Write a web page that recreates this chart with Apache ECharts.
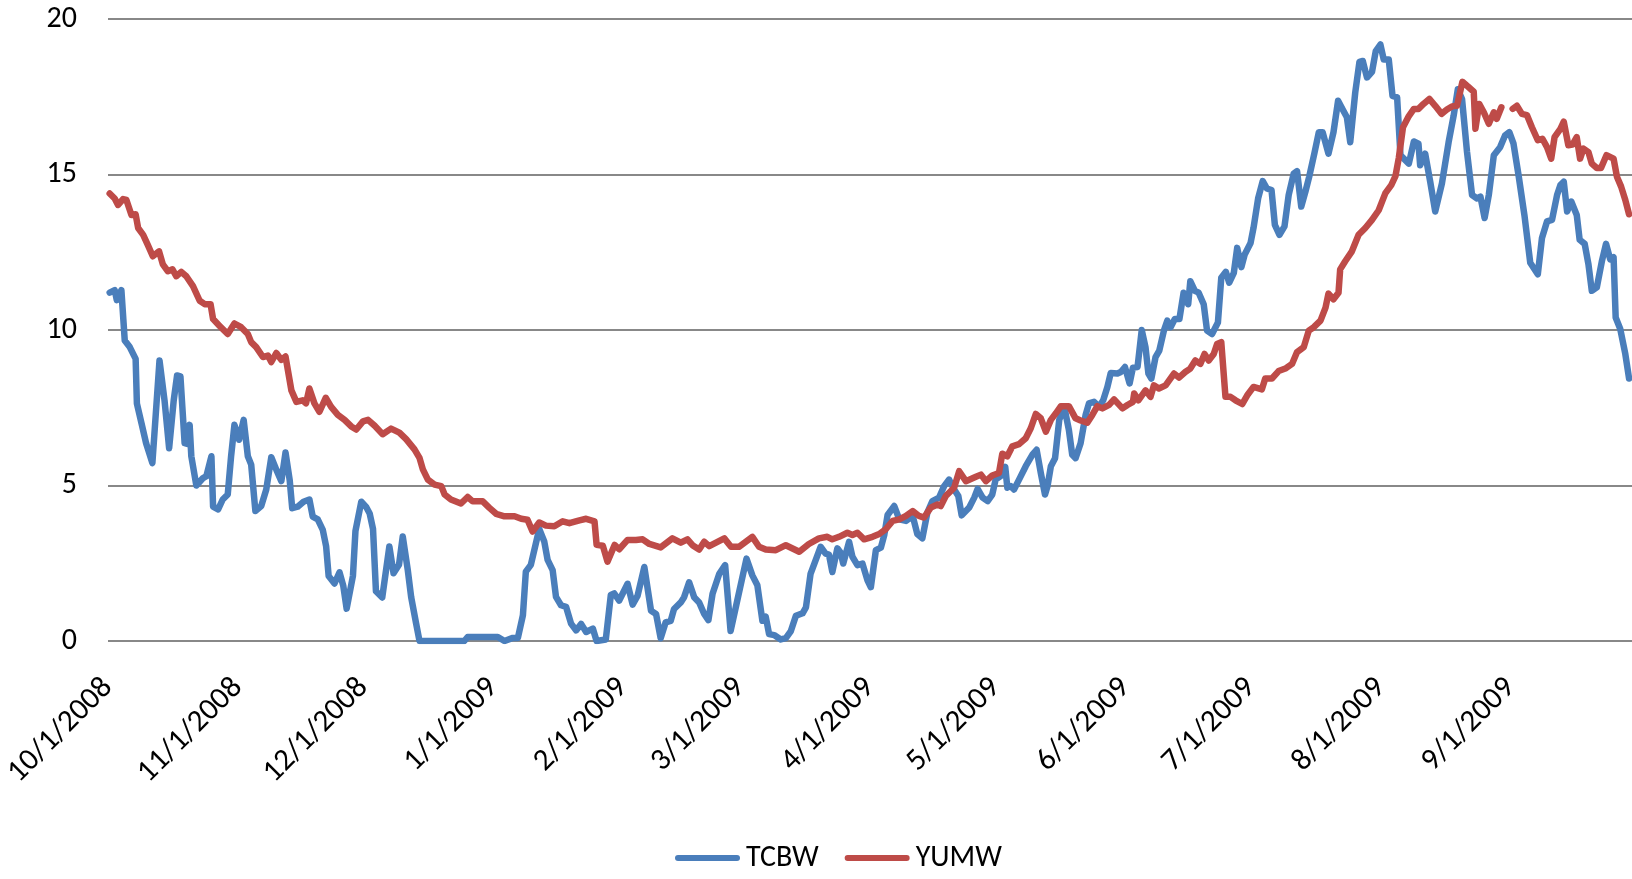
<!DOCTYPE html>
<html><head><meta charset="utf-8">
<script src="https://cdn.jsdelivr.net/npm/echarts@6/dist/echarts.min.js"></script>
<style>html,body{margin:0;padding:0;background:#fff}#c{width:1632px;height:879px}</style>
</head><body><div id="c"></div>
<script>
// x values are days since 10/1/2008
const monthTickDays = [0, 31, 61, 92, 123, 151, 182, 212, 243, 273, 304, 335];
const monthTickLabels = ['10/1/2008', '11/1/2008', '12/1/2008', '1/1/2009', '2/1/2009', '3/1/2009',
  '4/1/2009', '5/1/2009', '6/1/2009', '7/1/2009', '8/1/2009', '9/1/2009'];
const seriesNames = ['TCBW', 'YUMW'];

const tcbw = [
 [0.4,11.2],[1.6,11.28],[2.1,10.96],[3.2,11.28],[4.0,9.66],[5.2,9.45],[6.6,9.07],[6.9,7.64],[8.0,7.0],[9.1,6.36],
 [10.6,5.72],[12.3,9.02],[13.5,7.74],[14.6,6.2],[15.7,7.74],[16.5,8.54],[17.3,8.51],[18.3,6.36],[18.9,6.34],[19.5,6.95],
 [19.9,5.94],[21.1,5.0],[22.7,5.24],[23.5,5.3],[24.7,5.94],[25.1,4.32],[26.3,4.23],[27.4,4.55],[28.6,4.71],[29.4,5.94],
 [30.2,6.95],[31.3,6.47],[32.4,7.11],[33.4,5.94],[34.2,5.67],[35.2,4.18],[36.6,4.34],[37.8,4.87],[39.0,5.91],[40.2,5.51],
 [41.4,5.14],[42.4,6.06],[43.4,5.17],[44.0,4.27],[45.3,4.32],[46.7,4.48],[48.1,4.55],[48.9,4.0],[50.1,3.91],[51.3,3.57],
 [52.1,3.04],[52.7,2.09],[54.1,1.85],[55.3,2.21],[56.2,1.77],[57.0,1.04],[58.5,2.09],[59.1,3.53],[60.5,4.48],[61.7,4.3],
 [62.5,4.1],[63.3,3.6],[64.0,1.6],[65.5,1.4],[67.2,3.04],[68.2,2.18],[69.5,2.45],[70.4,3.36],[71.6,2.28],[72.4,1.42],
 [73.6,0.56],[74.4,0],[85.1,0],[85.9,0.13],[93.1,0.13],[94.7,0],[96.7,0.1],[97.9,0.1],[99.1,0.83],[99.8,2.23],
 [101.0,2.45],[103.0,3.6],[104.2,3.2],[105.0,2.61],[106.2,2.28],[107.0,1.42],[108.2,1.15],[109.4,1.1],[110.6,0.56],[111.8,0.34],
 [113.0,0.55],[114.2,0.29],[115.8,0.4],[116.7,0],[118.9,0.05],[120.1,1.48],[120.9,1.53],[122.1,1.3],[124.1,1.84],[125.3,1.17],
 [126.5,1.46],[128.1,2.38],[129.7,0.97],[130.9,0.87],[132.0,0.09],[133.2,0.6],[134.4,0.65],[135.2,1.03],[136.8,1.24],[137.6,1.41],
 [138.8,1.89],[140.0,1.41],[141.2,1.24],[142.4,0.87],[143.4,0.67],[144.4,1.52],[146.0,2.16],[147.4,2.44],[148.7,0.32],[150.3,1.3],
 [152.5,2.65],[153.9,2.11],[155.1,1.79],[156.3,0.65],[157.1,0.78],[157.9,0.22],[159.1,0.19],[160.7,0.05],[161.9,0.09],[163.1,0.32],
 [164.3,0.81],[165.9,0.89],[166.7,1.08],[167.8,2.16],[170.2,3.03],[171.4,2.81],[172.2,2.78],[173.0,2.22],[174.2,2.98],[175.0,2.84],
 [175.6,2.49],[177.0,3.19],[177.8,2.71],[179.0,2.44],[180.2,2.49],[181.4,1.95],[182.2,1.73],[183.4,2.92],[184.6,3.0],[185.4,3.4],
 [186.2,4.05],[187.8,4.34],[189.0,3.91],[190.6,3.86],[192.2,4.02],[193.3,3.44],[194.5,3.3],[195.7,4.13],[196.9,4.5],[198.5,4.61],
 [199.7,4.98],[200.9,5.19],[202.1,4.87],[203.1,4.66],[203.9,4.04],[205.7,4.29],[206.9,4.61],[207.7,4.89],[208.9,4.61],[210.1,4.5],
 [211.2,4.71],[212.0,5.19],[213.2,5.3],[214.3,5.6],[214.8,4.93],[215.6,4.98],[216.4,4.87],[217.6,5.19],[219.2,5.62],[220.8,5.99],
 [221.8,6.15],[222.8,5.4],[223.8,4.71],[224.4,4.98],[225.2,5.62],[226.2,5.88],[227.2,7.11],[228.4,7.53],[229.5,6.79],[230.3,5.99],
 [231.1,5.88],[232.3,6.36],[233.5,7.27],[234.3,7.64],[235.5,7.69],[236.7,7.53],[237.7,7.74],[238.7,8.17],[239.5,8.62],[241.1,8.6],
 [241.9,8.65],[242.9,8.81],[244.0,8.28],[244.8,8.79],[245.9,8.81],[246.9,10.0],[247.8,9.45],[248.5,8.6],[249.2,8.44],[250.2,9.13],
 [251.1,9.34],[252.2,9.98],[253.0,10.3],[253.8,10.09],[254.8,10.35],[255.9,10.35],[256.9,11.2],[258.0,10.83],[258.5,11.57],[259.6,11.26],
 [260.5,11.2],[261.7,10.83],[262.5,9.98],[263.7,9.87],[265.1,10.24],[265.9,11.68],[267.0,11.87],[267.8,11.52],[268.9,11.84],[269.7,12.64],
 [270.7,12.02],[271.5,12.43],[272.9,12.8],[273.6,13.28],[274.7,14.23],[275.8,14.79],[276.8,14.55],[277.9,14.5],[278.7,13.38],[279.8,13.06],
 [281.0,13.33],[282.0,14.34],[283.2,15.03],[284.0,15.11],[285.0,13.97],[286.0,14.45],[286.9,14.93],[288.2,15.72],[289.2,16.36],[290.1,16.36],
 [291.5,15.67],[292.7,16.36],[293.8,17.37],[294.9,17.09],[295.9,16.84],[296.7,16.04],[297.9,17.64],[298.9,18.62],[299.7,18.65],[300.7,18.12],
 [301.9,18.3],[302.8,18.97],[303.9,19.18],[304.7,18.7],[305.9,18.7],[306.8,17.53],[307.9,17.48],[308.7,15.62],[309.5,15.51],[310.7,15.35],
 [311.9,16.06],[313.0,15.99],[313.4,15.3],[314.6,15.67],[315.8,14.77],[317.0,13.81],[318.6,14.71],[320.2,16.04],[321.4,16.89],[322.4,17.74],
 [323.4,17.43],[324.6,15.72],[325.8,14.34],[327.0,14.23],[327.8,14.29],[328.8,13.6],[329.8,14.34],[331.0,15.62],[332.5,15.88],[333.7,16.26],
 [334.7,16.36],[335.7,15.99],[336.9,14.98],[338.3,13.7],[339.7,12.16],[341.5,11.79],[342.5,12.96],[343.7,13.49],[344.9,13.54],[346.1,14.34],
 [346.9,14.66],[347.7,14.77],[348.5,13.81],[349.5,14.13],[350.8,13.7],[351.5,12.9],[352.7,12.77],[353.6,12.11],[354.4,11.26],[355.6,11.37],
 [356.8,12.21],[357.8,12.77],[358.8,12.27],[359.6,12.34],[360.1,10.4],[361.2,10.03],[362.4,9.23],[363.3,8.44]
];

const yumw = [
 [0.4,14.39],[1.6,14.23],[2.4,14.02],[3.6,14.21],[4.4,14.18],[5.6,13.7],[6.6,13.72],[7.2,13.28],[8.4,13.06],[9.5,12.74],
 [10.7,12.37],[12.2,12.53],[13.1,12.11],[14.3,11.89],[15.4,11.95],[16.3,11.73],[17.5,11.87],[18.7,11.73],[20.3,11.41],[21.9,10.94],
 [23.1,10.83],[24.5,10.83],[25.1,10.35],[26.6,10.14],[28.6,9.87],[30.2,10.21],[31.8,10.09],[33.4,9.87],[34.2,9.61],[35.4,9.45],
 [37.0,9.13],[38.2,9.18],[39.0,8.97],[40.2,9.26],[41.4,9.04],[42.4,9.15],[43.8,8.06],[45.0,7.69],[46.5,7.74],[47.3,7.64],
 [48.1,8.12],[49.3,7.64],[50.5,7.37],[52.0,7.82],[53.3,7.53],[54.9,7.27],[56.5,7.11],[58.1,6.9],[59.3,6.8],[60.9,7.06],
 [62.1,7.11],[63.7,6.92],[65.6,6.65],[67.6,6.83],[69.6,6.7],[71.2,6.49],[73.2,6.16],[74.4,5.89],[75.2,5.52],[76.4,5.19],
 [78.0,5.03],[79.6,4.98],[80.4,4.71],[81.9,4.55],[84.3,4.42],[85.9,4.63],[87.1,4.49],[89.5,4.49],[91.1,4.28],[92.7,4.09],
 [94.7,4.01],[97.1,4.01],[98.7,3.93],[100.2,3.9],[101.4,3.52],[103.0,3.81],[104.6,3.71],[106.6,3.69],[108.6,3.85],[110.2,3.79],
 [112.6,3.88],[114.2,3.93],[116.2,3.85],[116.7,3.09],[118.2,3.06],[119.3,2.55],[121.0,3.09],[122.1,2.95],[124.1,3.25],[126.1,3.25],
 [127.7,3.27],[129.3,3.12],[132.0,3.01],[134.8,3.3],[136.8,3.16],[138.4,3.27],[139.6,3.08],[141.2,2.94],[142.4,3.19],[143.6,3.05],
 [147.2,3.3],[148.8,3.03],[150.7,3.03],[153.9,3.35],[155.5,3.03],[157.1,2.94],[159.5,2.92],[161.9,3.08],[165.1,2.87],[167.4,3.12],
 [169.8,3.3],[171.8,3.35],[173.0,3.27],[174.6,3.35],[176.6,3.48],[177.8,3.41],[179.0,3.48],[180.6,3.27],[182.6,3.35],[184.2,3.44],
 [185.8,3.6],[187.4,3.86],[189.0,3.91],[190.6,4.02],[192.2,4.18],[193.7,4.02],[194.9,3.97],[196.5,4.29],[198.1,4.39],[198.9,4.34],
 [200.1,4.66],[202.1,4.93],[203.3,5.46],[204.9,5.14],[207.3,5.28],[208.5,5.35],[209.7,5.14],[211.2,5.32],[212.8,5.4],[213.6,6.02],
 [214.8,5.94],[216.0,6.26],[217.6,6.33],[219.2,6.52],[220.4,6.84],[221.6,7.3],[222.8,7.16],[224.0,6.73],[225.2,7.11],[226.4,7.32],
 [227.6,7.55],[229.5,7.55],[231.1,7.16],[232.3,7.09],[233.9,7.02],[235.1,7.27],[236.3,7.55],[237.5,7.48],[239.1,7.59],[240.3,7.77],
 [242.3,7.48],[243.5,7.59],[244.8,7.69],[245.1,7.96],[246.1,7.74],[247.8,8.06],[249.0,7.85],[249.8,8.22],[251.0,8.12],[252.6,8.22],
 [254.6,8.6],[255.8,8.47],[257.3,8.65],[258.5,8.76],[259.7,9.02],[260.9,8.91],[261.9,9.23],[262.9,9.02],[264.1,9.23],[264.9,9.55],
 [265.9,9.61],[266.9,7.85],[268.1,7.85],[269.3,7.74],[270.9,7.62],[272.1,7.9],[273.6,8.17],[275.6,8.09],[276.4,8.44],[278.0,8.44],
 [279.6,8.68],[281.2,8.76],[282.8,8.91],[284.0,9.29],[285.6,9.45],[286.8,9.98],[288.0,10.09],[289.6,10.3],[290.8,10.72],[291.5,11.17],
 [292.7,10.99],[293.9,11.2],[294.3,11.95],[295.5,12.21],[297.1,12.53],[298.7,13.06],[300.3,13.28],[301.9,13.54],[303.5,13.85],[305.1,14.4],
 [306.5,14.66],[307.5,14.95],[308.3,15.53],[309.3,16.52],[310.7,16.88],[311.9,17.11],[313.0,17.11],[314.2,17.27],[315.6,17.43],[317.0,17.21],
 [318.5,16.95],[319.8,17.09],[321.0,17.19],[322.2,17.21],[323.5,17.98],[324.8,17.83],[326.2,17.66],[326.6,16.47],[327.5,17.27],[328.6,17.0],
 [329.8,16.63],[331.0,17.0],[331.7,16.79],[332.8,17.16],[334.1,null],[335.5,17.11],[336.5,17.21],[337.7,16.95],[338.9,16.91],[340.1,16.52],
 [341.5,16.1],[342.6,16.15],[343.7,15.88],[344.7,15.51],[345.5,16.2],[346.9,16.47],[347.7,16.7],[348.8,15.94],[349.8,15.96],[350.8,16.2],
 [351.6,15.51],[352.4,15.83],[353.6,15.72],[354.4,15.35],[355.6,15.21],[356.6,15.21],[357.9,15.62],[359.6,15.51],[360.4,14.93],[361.4,14.61],
 [362.4,14.18],[363.3,13.72]
];

const FONT = 'Carlito, Lato, sans-serif';
const LEGEND_ICON = 'path://M3,0 L62,0 A3,3 0 0 1 62,6 L3,6 A3,3 0 0 1 3,0 Z';
const chart = echarts.init(document.getElementById('c'), null, {renderer: 'canvas'});
chart.setOption({
  animation: false,
  backgroundColor: '#ffffff',
  textStyle: {fontFamily: FONT},
  grid: {left: 108, right: 0, top: 19, bottom: 238, outerBoundsMode: 'none'},
  legend: {
    data: seriesNames, left: 670, top: 838,
    icon: LEGEND_ICON,
    itemWidth: 65, itemHeight: 6, itemGap: 26,
    textStyle: {fontSize: 30, color: '#000', fontFamily: FONT, padding: [0, 0, 0, 1]}
  },
  xAxis: {
    type: 'value', min: 0, max: 364,
    axisLine: {show: false}, axisTick: {show: false}, splitLine: {show: false},
    axisLabel: {
      customValues: monthTickDays, rotate: 45, margin: 42,
      fontSize: 31, color: '#000', fontFamily: FONT,
      formatter: v => monthTickLabels[monthTickDays.indexOf(v)] || ''
    }
  },
  yAxis: {
    type: 'value', min: 0, max: 20, interval: 5,
    axisLine: {show: false}, axisTick: {show: false},
    splitLine: {lineStyle: {color: '#888888', width: 2}},
    axisLabel: {fontSize: 30, color: '#000', margin: 31, fontFamily: FONT}
  },
  series: [
    {name: seriesNames[0], type: 'line', data: tcbw, showSymbol: false, symbol: 'none',
     color: '#4A7EBB', itemStyle: {color: '#4A7EBB'},
     lineStyle: {width: 6.5, color: '#4A7EBB', cap: 'round', join: 'round'}},
    {name: seriesNames[1], type: 'line', data: yumw, showSymbol: false, symbol: 'none',
     color: '#BE4B48', itemStyle: {color: '#BE4B48'},
     lineStyle: {width: 6.5, color: '#BE4B48', cap: 'round', join: 'round'}}
  ]
});
</script></body></html>
